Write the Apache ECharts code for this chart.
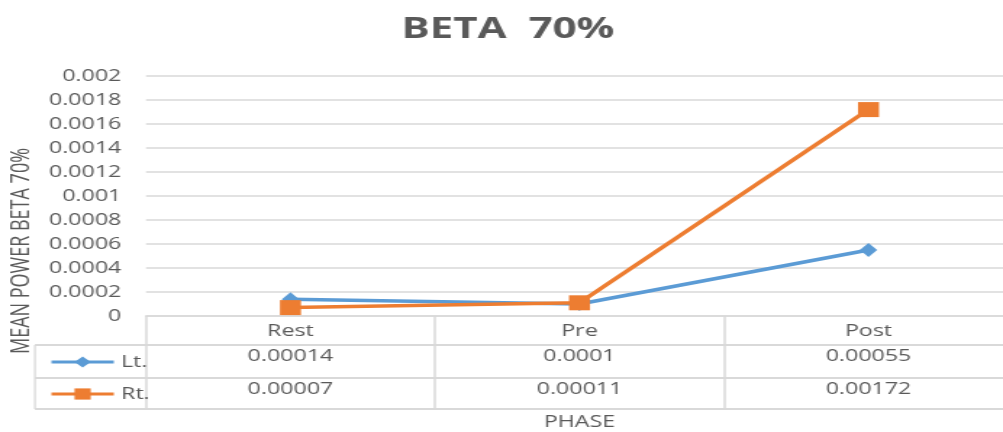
<!DOCTYPE html>
<html>
<head>
<meta charset="utf-8">
<script src="https://cdn.jsdelivr.net/npm/echarts@6/dist/echarts.min.js"></script>
<style>
html,body{margin:0;padding:0;background:#fff;overflow:hidden;width:1003px;height:432px;}
#c{width:692px;height:432px;transform:scaleX(1.4494);transform-origin:0 0;}
</style>
</head>
<body>
<div id="c"></div>
<script>
var categories = ['Rest', 'Pre', 'Post'];
var ltValues = [0.00014, 0.0001, 0.00055];
var rtValues = [0.00007, 0.00011, 0.00172];
var ltLabels = ['0.00014', '0.0001', '0.00055'];
var rtLabels = ['0.00007', '0.00011', '0.00172'];
var yTickLabels = ['0', '0.0002', '0.0004', '0.0006', '0.0008', '0.001', '0.0012', '0.0014', '0.0016', '0.0018', '0.002'];

var gray = '#595959';
var lineGray = '#d9d9d9';
var font = 'Open Sans';

var chart = echarts.init(document.getElementById('c'));
function tableAxis(offset, tickLen, labels, margin, name) {
  return {
    type: 'category', gridIndex: 0, position: 'bottom', offset: offset,
    data: categories,
    boundaryGap: true,
    axisLine: { show: true, onZero: false, lineStyle: { color: lineGray, width: 1.5 } },
    axisTick: { show: tickLen > 0, length: tickLen, lineStyle: { color: lineGray, width: 1.5 } },
    axisLabel: {
      show: !!labels, color: gray, fontFamily: font, fontSize: 16, margin: margin,
      formatter: function (v, i) { return labels ? labels[i] : ''; }
    },
    name: name || '', nameLocation: 'middle', nameGap: 5,
    nameTextStyle: { color: gray, fontFamily: font, fontSize: 16 }
  };
}
function hLine(x1, x2, y) {
  return { type: 'line', z: 0, silent: true, shape: { x1: x1, y1: y, x2: x2, y2: y }, style: { stroke: lineGray, lineWidth: 2 } };
}
chart.setOption({
  animation: false,
  title: {
    text: 'BETA  70%', left: 345.5, top: 10, textAlign: 'center',
    textStyle: { color: gray, fontFamily: font, fontSize: 29, fontWeight: 'bold' }
  },
  grid: { left: 100.7, width: 598.2, top: 76, bottom: 116, containLabel: false, outerBoundsMode: 'none' },
  legend: {
    orient: 'vertical', left: 29, top: 349, itemGap: 16,
    itemWidth: 43, itemHeight: 14,
    lineStyle: { width: 3 },
    textStyle: { color: gray, fontFamily: font, fontSize: 16 },
    data: ['Lt.', 'Rt.']
  },
  xAxis: [
    tableAxis(0, 29, categories, 7),
    tableAxis(29, 33, ltLabels, 3),
    tableAxis(62, 31, rtLabels, 3),
    tableAxis(93, 0, null, 0, 'PHASE')
  ],
  yAxis: {
    type: 'value', min: 0, max: 0.002, interval: 0.0002,
    axisLine: { show: false }, axisTick: { show: false },
    splitLine: { lineStyle: { color: lineGray, width: 1.5 } },
    axisLabel: {
      color: gray, fontFamily: font, fontSize: 16, margin: 17,
      formatter: function (v) { return yTickLabels[Math.round(v / 0.0002)]; }
    }
  },
  graphic: [
    hLine(24.1, 692, 345),
    hLine(24.1, 692, 378),
    hLine(24.1, 692, 409),
    { type: 'line', z: 0, silent: true, shape: { x1: 24.1, y1: 345, x2: 24.1, y2: 409 }, style: { stroke: lineGray, lineWidth: 1.3 } },
    {
      type: 'text', x: 15, y: 251, rotation: Math.PI / 2,
      style: { text: 'MEAN POWER BETA 70%', fill: gray, font: '18px "Open Sans", sans-serif', align: 'center', verticalAlign: 'middle' }
    }
  ],
  series: [
    {
      name: 'Lt.', type: 'line', data: ltValues, xAxisIndex: 0,
      symbol: 'diamond', symbolSize: [12, 14],
      lineStyle: { color: '#5b9bd5', width: 3.5 },
      itemStyle: { color: '#5b9bd5' }, z: 2
    },
    {
      name: 'Rt.', type: 'line', data: rtValues, xAxisIndex: 0,
      symbol: 'rect', symbolSize: [14.5, 15],
      lineStyle: { color: '#ed7d31', width: 3.5 },
      itemStyle: { color: '#ed7d31' }, z: 3
    }
  ]
});
</script>
</body>
</html>
